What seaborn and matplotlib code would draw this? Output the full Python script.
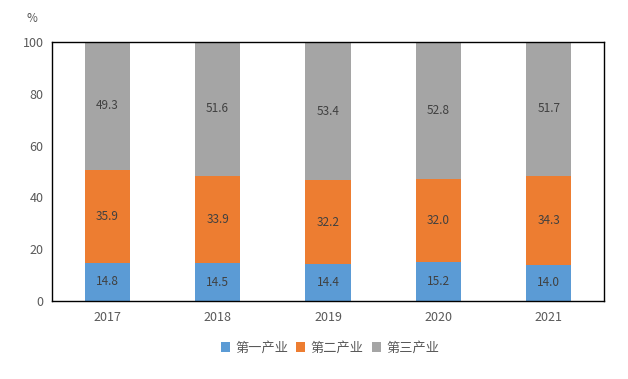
import matplotlib
matplotlib.use("Agg")
import matplotlib.pyplot as plt
import numpy as np
import pandas as pd
import seaborn as sns

# ── data ──────────────────────────────────────────────────────────────────────
years = ["2017", "2018", "2019", "2020", "2021"]
primary = [14.8, 14.5, 14.4, 15.2, 14.0]
secondary = [35.9, 33.9, 32.2, 32.0, 34.3]
tertiary = [49.3, 51.6, 53.4, 52.8, 51.7]
series_names = ["第一产业", "第二产业", "第三产业"]
colors = ["#5B9BD5", "#ED7D31", "#A5A5A5"]
yticks = [0, 20, 40, 60, 80, 100]

sns.set_theme(style="white")
plt.rcParams["font.family"] = ["Noto Sans CJK SC", "DejaVu Sans"]
text_c = "#595959"

fig = plt.figure(figsize=(6.28, 3.79), dpi=100)
ax = fig.add_axes([0.0828, 0.2058, 0.879, 0.6834])

df = pd.DataFrame({"year": years, series_names[0]: primary,
                   series_names[1]: secondary, series_names[2]: tertiary})

bottom = np.zeros(len(years))
for name, col in zip(series_names, colors):
    vals = df[name].to_numpy()
    bars = ax.bar(df["year"], vals, bottom=bottom, width=0.41, color=col,
                  label=name, linewidth=0)
    ax.bar_label(bars, labels=[f"{v:.1f}" for v in vals], label_type="center",
                 fontsize=8.5, color="#404040")
    bottom += vals

ax.set_xlim(-0.5, len(years) - 0.5)
ax.set_ylim(0, 100)
ax.set_yticks(yticks)
ax.tick_params(axis="y", direction="in", length=5, width=1, color="black",
               labelsize=9, labelcolor=text_c, pad=6)
ax.tick_params(axis="x", length=0, labelsize=9, labelcolor=text_c, pad=7)
for sp in ax.spines.values():
    sp.set_visible(True)
    sp.set_color("black")
    sp.set_linewidth(1)

fig.text(32 / 628, 1 - 18 / 379, "%", fontsize=8.5, color=text_c,
         ha="center", va="center")

leg = fig.legend(loc="center", bbox_to_anchor=(330 / 628, 1 - 348 / 379), ncol=3,
                 frameon=False, fontsize=9.5, handlelength=0.7, handleheight=0.7,
                 handletextpad=0.4, columnspacing=0.6, labelcolor=text_c)

fig.savefig("out.png", dpi=100)
